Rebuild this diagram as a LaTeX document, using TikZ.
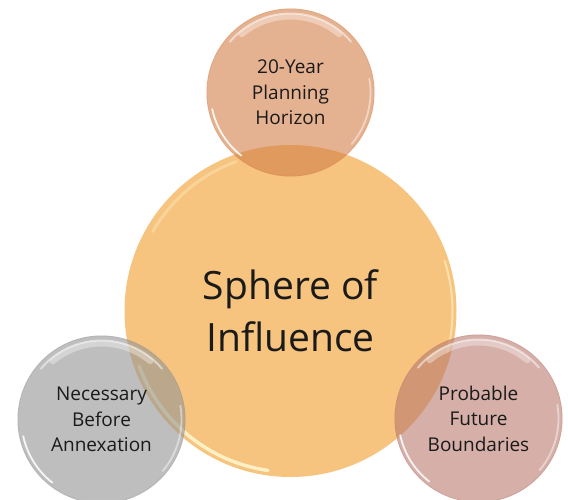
\documentclass[tikz,border=0pt]{standalone}
\usepackage{fontspec}
\setmainfont{Open Sans}
\definecolor{centralfill}{HTML}{F6C47F}
\definecolor{topfill}{RGB}{212,127,73}
\definecolor{greyfill}{RGB}{148,148,148}
\definecolor{rosefill}{RGB}{185,122,110}
\definecolor{txt}{HTML}{1A1A1A}
\definecolor{warmhl}{HTML}{FFF4CC}
\tikzset{
  bubble/.style={circle, inner sep=0pt, minimum size=168pt, fill opacity=0.6, text opacity=1, text=txt, align=center, font=\fontsize{19}{25.5}\selectfont},
  bigbubble/.style={circle, inner sep=0pt, minimum size=332pt, fill=centralfill, text=txt, align=center, font=\fontsize{39}{52}\selectfont},
  hlsoft/.style={draw=white, line cap=round, opacity=0.35, line width=6pt},
  hl/.style={draw=white, line cap=round, opacity=0.5, line width=2pt},
  hlthin/.style={draw=white, line cap=round, opacity=0.85, line width=1.8pt},
  rim/.style={draw=#1, line width=0.8pt, opacity=0.22}
}
\begin{document}
\begin{tikzpicture}[x=1pt,y=1pt]
\useasboundingbox (0,0) rectangle (568,499);
\fill[white] (0,0) rectangle (568,499);
% central circle
\node[bigbubble] (c) at (290.5,188) {Sphere of\\Influence};
\draw[draw=warmhl, line cap=round, opacity=0.9, line width=3.5pt]
  ([shift={(200:161)}]c.center) arc[start angle=200, end angle=262, radius=161];
\draw[draw=warmhl, line cap=round, opacity=0.6, line width=2pt]
  ([shift={(-15:162)}]c.center) arc[start angle=-15, end angle=18, radius=162];
\draw[draw=warmhl, line cap=round, opacity=0.35, line width=3pt]
  ([shift={(110:159)}]c.center) arc[start angle=110, end angle=150, radius=159];
% satellites
\node[bubble, fill=topfill] (t) at (290.5,406.5) {20-Year\\Planning\\Horizon};
\node[bubble, fill=greyfill] (l) at (101.5,79.5) {Necessary\\Before\\Annexation};
\node[bubble, fill=rosefill] (r) at (478.5,80.5) {Probable\\Future\\Boundaries};
\foreach \n/\rc in {t/topfill, l/greyfill, r/rosefill}{
  \draw[rim=\rc] (\n.center) circle[radius=83.5];
  \draw[hlsoft] ([shift={(50:76)}]\n.center) arc[start angle=50, end angle=130, radius=76];
  \draw[hl] ([shift={(40:79)}]\n.center) arc[start angle=40, end angle=140, radius=79];
  \draw[hlthin] ([shift={(192:80)}]\n.center) arc[start angle=192, end angle=232, radius=80];
  \draw[hlthin, opacity=0.45] ([shift={(-40:80)}]\n.center) arc[start angle=-40, end angle=10, radius=80];
}
\end{tikzpicture}
\end{document}
